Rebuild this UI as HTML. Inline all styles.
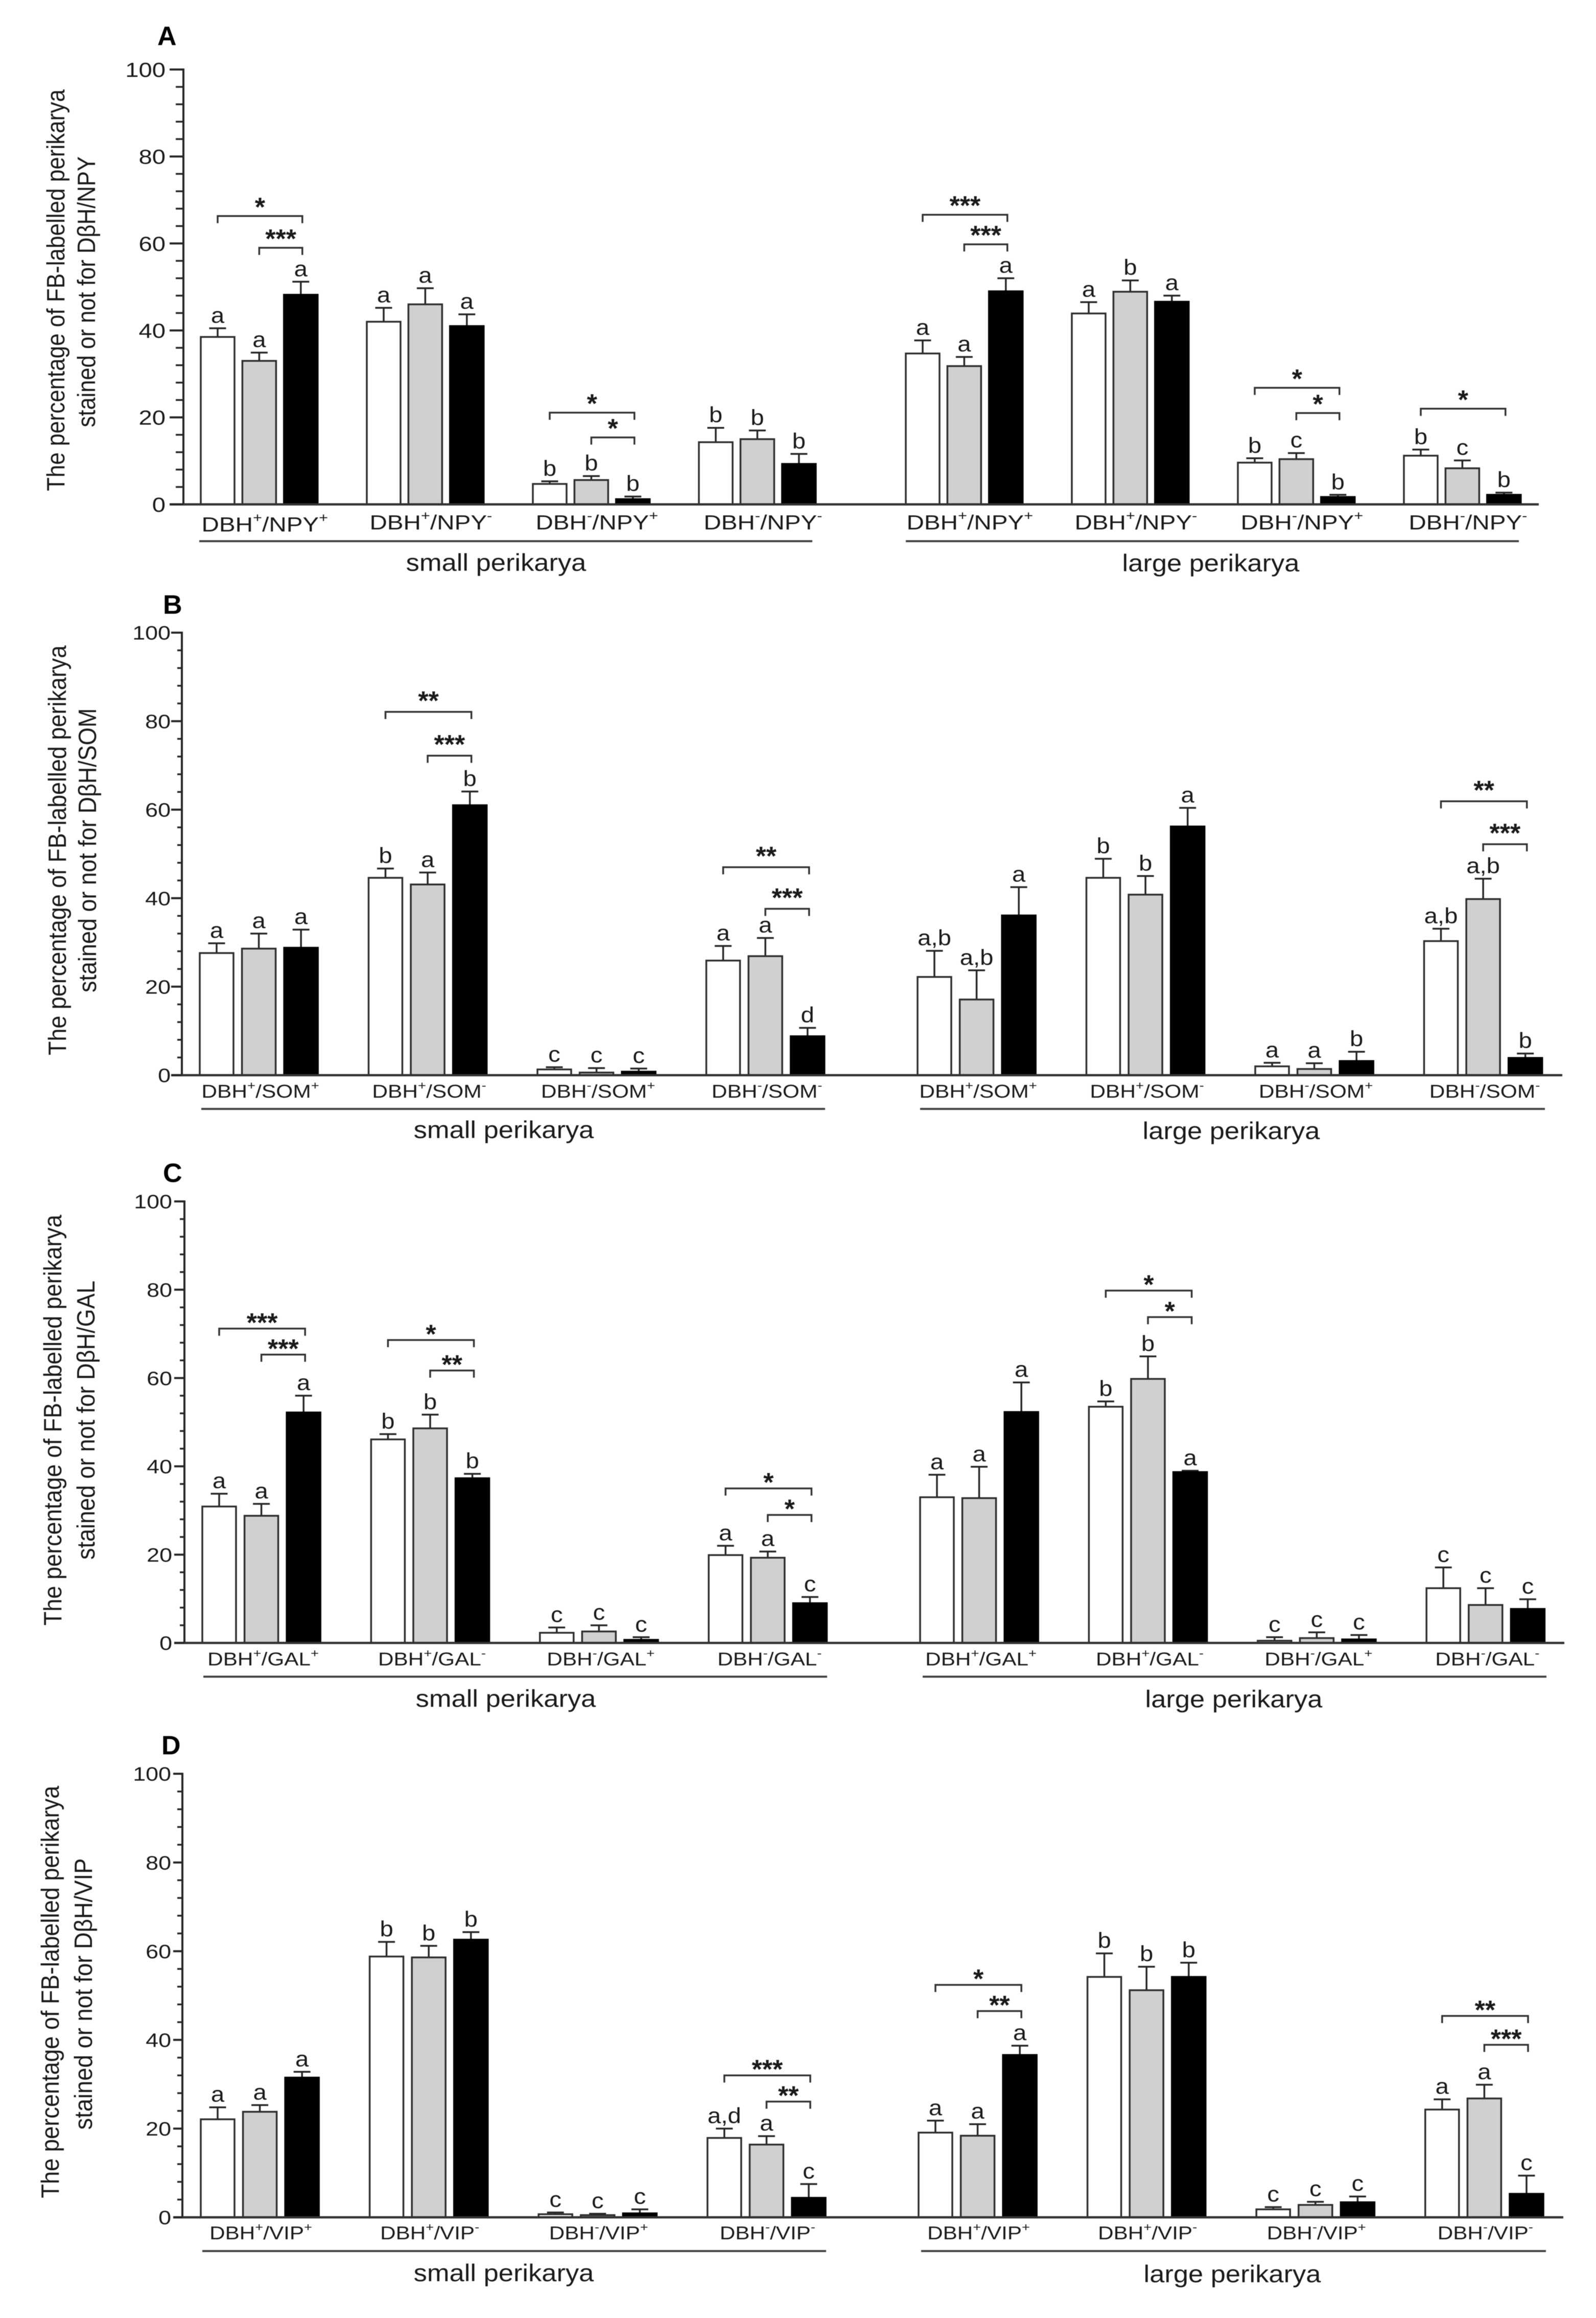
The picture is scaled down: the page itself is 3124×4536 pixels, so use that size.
<!DOCTYPE html>
<html lang="en">
<head>
<meta charset="utf-8">
<title>FB-labelled perikarya bar charts</title>
<style>
html,body{margin:0;padding:0;background:#fff;}
#figure{display:block;width:3124px;height:4536px;background:#fff;font-family:"Liberation Sans",Arial,sans-serif;fill:#1a1a1a;filter:blur(0.6px);}
</style>
</head>
<body>
<svg id="figure" xmlns="http://www.w3.org/2000/svg" width="3124" height="4536" viewBox="0 0 3124 4536"></svg>
<script>
// ---------- shared tick labels and category signs ----------
const majorTicks = [0, 20, 40, 60, 80, 100];
const minorTicks = [4, 8, 12, 16, 24, 28, 32, 36, 44, 48, 52, 56, 64, 68, 72, 76, 84, 88, 92, 96];
const categorySigns = [['+', '+'], ['+', '-'], ['-', '+'], ['-', '-']];
const seriesFills = ['#ffffff', '#d0d0d0', '#000000'];

// ---------- panel A ----------
const aMeans = [[38.5, 33, 48.2], [42, 46, 41], [4.7, 5.6, 1.2], [14.3, 15, 9.3], [34.7, 31.8, 49], [43.9, 48.9, 46.6], [9.6, 10.4, 1.7], [11.2, 8.3, 2.2]];
const aErrorTops = [[40.5, 34.9, 51.2], [45.2, 49.7, 43.7], [5.3, 6.5, 1.8], [17.6, 17, 11.6], [37.7, 33.9, 52], [46.5, 51.5, 48], [10.6, 11.8, 2.2], [12.6, 10.1, 2.7]];
const aLetters = [['a', 'a', 'a'], ['a', 'a', 'a'], ['b', 'b', 'b'], ['b', 'b', 'b'], ['a', 'a', 'a'], ['a', 'b', 'a'], ['b', 'c', 'b'], ['b', 'c', 'b']];
const aBrackets = [[0, 0, 2, 66.3, '*'], [0, 1, 2, 59, '***'], [2, 0, 2, 21.1, '*'], [2, 1, 2, 15.4, '*'], [4, 0, 2, 66.6, '***'], [4, 1, 2, 59.8, '***'], [6, 0, 2, 26.8, '*'], [6, 1, 2, 21, '*'], [7, 0, 2, 22, '*']];

// ---------- panel B ----------
const bMeans = [[27.6, 28.6, 28.8], [44.6, 43.1, 61], [1.3, 0.6, 0.8], [25.9, 26.9, 8.8], [22.2, 17.1, 36.1], [44.6, 40.8, 56.2], [2, 1.4, 3.2], [30.3, 39.8, 3.9]];
const bErrorTops = [[29.8, 32, 32.9], [46.7, 45.8, 64.1], [1.8, 1.6, 1.5], [29.2, 31, 10.7], [28.1, 23.7, 42.5], [48.9, 45, 60.4], [2.8, 2.7, 5.3], [33.1, 44.4, 4.9]];
const bLetters = [['a', 'a', 'a'], ['b', 'a', 'b'], ['c', 'c', 'c'], ['a', 'a', 'd'], ['a,b', 'a,b', 'a'], ['b', 'b', 'a'], ['a', 'a', 'b'], ['a,b', 'a,b', 'b']];
const bBrackets = [[1, 0, 2, 82.1, '**'], [1, 1, 2, 72.2, '***'], [3, 0, 2, 47, '**'], [3, 1, 2, 37.6, '***'], [7, 0, 2, 61.9, '**'], [7, 1, 2, 52.2, '***']];

// ---------- panel C ----------
const cMeans = [[30.9, 28.8, 52.2], [46.1, 48.6, 37.3], [2.3, 2.6, 0.7], [19.9, 19.3, 9], [33, 32.8, 52.3], [53.5, 59.8, 38.7], [0.5, 1.1, 0.8], [12.4, 8.6, 7.7]];
const cErrorTops = [[33.8, 31.5, 56], [47.3, 51.7, 38.3], [3.5, 4, 1.3], [22, 20.7, 10.4], [38.1, 39.9, 59], [54.7, 64.9, 39], [1.3, 2.4, 1.8], [17.1, 12.4, 9.9]];
const cLetters = [['a', 'a', 'a'], ['b', 'b', 'b'], ['c', 'c', 'c'], ['a', 'a', 'c'], ['a', 'a', 'a'], ['b', 'b', 'a'], ['c', 'c', 'c'], ['c', 'c', 'c']];
const cBrackets = [[0, 0, 2, 71.2, '***'], [0, 1, 2, 65.3, '***'], [1, 0, 2, 68.6, '*'], [1, 1, 2, 61.7, '**'], [3, 0, 2, 35, '*'], [3, 1, 2, 29, '*'], [5, 0, 2, 79.8, '*'], [5, 1, 2, 73.8, '*']];

// ---------- panel D ----------
const dMeans = [[22.1, 23.8, 31.5], [58.8, 58.6, 62.6], [0.7, 0.5, 0.9], [17.9, 16.4, 4.4], [19.1, 18.4, 36.6], [54.2, 51.2, 54.2], [1.8, 2.8, 3.4], [24.3, 26.8, 5.3]];
const dErrorTops = [[24.8, 25.3, 32.8], [62.1, 61.2, 64.3], [1.1, 0.8, 1.8], [20, 18.3, 7.5], [21.8, 21, 38.7], [59.5, 56.5, 57.4], [2.3, 3.5, 4.7], [26.6, 29.9, 9.4]];
const dLetters = [['a', 'a', 'a'], ['b', 'b', 'b'], ['c', 'c', 'c'], ['a,d', 'a', 'c'], ['a', 'a', 'a'], ['b', 'b', 'b'], ['c', 'c', 'c'], ['a', 'a', 'c']];
const dBrackets = [[3, 0, 2, 32, '***'], [3, 1, 2, 26.1, '**'], [4, 0, 2, 52.4, '*'], [4, 1, 2, 46.5, '**'], [7, 0, 2, 45.4, '**'], [7, 1, 2, 38.9, '***']];

// ---------- layout (chart frame, not data) ----------
const panels = [
  { id: 'a', letter: 'A', marker: 'NPY', means: aMeans, tops: aErrorTops, letters: aLetters, brackets: aBrackets,
    letterX: 308, letterY: 88, axisX: 359, y100: 136, y0: 987, tickLeft: 332, minorLeft: 344, tickRight: 324, tickFont: 40,
    leftX: 393, rightX: 1773, groupStep: 325, barStep: 81.4, xEnd: 3012, starDy: -6,
    labelDx: 11, labelY: 1036, firstLabelDy: 4, labelFont: 40, labelStretch: 1.19, underY: 1059, underL: [390, 1590], underR: [1773, 2973],
    smallX: 971, smallY: 1117, largeX: 2370, largeY: 1118,
    t1x: 126, t1y: 568, t1len: 786, t2x: 186, t2y: 571, t2len: 530 },
  { id: 'b', letter: 'B', marker: 'SOM', means: bMeans, tops: bErrorTops, letters: bLetters, brackets: bBrackets,
    letterX: 319, letterY: 1201, axisX: 356, y100: 1238, y0: 2104, tickLeft: 335, minorLeft: 347, tickRight: 334, tickFont: 38,
    leftX: 391, rightX: 1796, groupStep: 330.5, barStep: 82.6, xEnd: 3058, starDy: -10,
    labelDx: 3, labelY: 2148, firstLabelDy: 0, labelFont: 36, labelStretch: 1.18, underY: 2170, underL: [394, 1615], underR: [1801, 3024],
    smallX: 986, smallY: 2227, largeX: 2410, largeY: 2229,
    t1x: 129, t1y: 1664, t1len: 802, t2x: 188, t2y: 1664, t2len: 556 },
  { id: 'c', letter: 'C', marker: 'GAL', means: cMeans, tops: cErrorTops, letters: cLetters, brackets: cBrackets,
    letterX: 319, letterY: 2313, axisX: 361, y100: 2351, y0: 3215, tickLeft: 341, minorLeft: 352, tickRight: 337, tickFont: 38,
    leftX: 396, rightX: 1801, groupStep: 330.4, barStep: 82.6, xEnd: 3062, starDy: 0,
    labelDx: 3.5, labelY: 3259, firstLabelDy: 0, labelFont: 36, labelStretch: 1.176, underY: 3281, underL: [398, 1619], underR: [1806, 3027],
    smallX: 990, smallY: 3340, largeX: 2415, largeY: 3341,
    t1x: 120, t1y: 2779, t1len: 804, t2x: 185, t2y: 2779, t2len: 546 },
  { id: 'd', letter: 'D', marker: 'VIP', means: dMeans, tops: dErrorTops, letters: dLetters, brackets: dBrackets,
    letterX: 316, letterY: 3433, axisX: 357, y100: 3471, y0: 4339, tickLeft: 339, minorLeft: 347, tickRight: 335, tickFont: 38,
    leftX: 393, rightX: 1798, groupStep: 330.6, barStep: 82.6, xEnd: 3060, starDy: 0,
    labelDx: 2, labelY: 4382, firstLabelDy: 0, labelFont: 36, labelStretch: 1.173, underY: 4405, underL: [396, 1617], underR: [1803, 3026],
    smallX: 986, smallY: 4464, largeX: 2412, largeY: 4466,
    t1x: 115, t1y: 3898, t1len: 807, t2x: 180, t2y: 3902, t2len: 531 }
];

const BAR_W = 66, CAP_W = 33, INK = '#262626', TICK_STRETCH = 1.18, GROUP_STRETCH = 1.116;
const SVGNS = 'http://www.w3.org/2000/svg';
const root = document.getElementById('figure');

function yScale(p, v) { return p.y0 - v * (p.y0 - p.y100) / 100; }
function barLeft(p, g, b) { return (g < 4 ? p.leftX : p.rightX) + (g % 4) * p.groupStep + b * p.barStep; }
function barCenter(p, g, b) { return barLeft(p, g, b) + BAR_W / 2; }

function make(parent, tag, attrs, text) {
  const el = document.createElementNS(SVGNS, tag);
  for (const k in attrs) el.setAttribute(k, attrs[k]);
  if (text !== undefined) el.textContent = text;
  parent.appendChild(el);
  return el;
}
function stretched(x, y, s) { return 'translate(' + x + ',' + y + ') scale(' + s + ',1)'; }

function drawAxis(p, g) {
  let el = make(g, 'line', { x1: p.axisX, x2: p.axisX, y1: yScale(p, 100) - 2, y2: yScale(p, 0), stroke: INK, 'stroke-width': 4 });
  
  
  el = make(g, 'line', { x1: p.tickLeft, x2: p.xEnd, y1: yScale(p, 0), y2: yScale(p, 0), stroke: '#333', 'stroke-width': 4.5 });
  
  
  minorTicks.forEach(function (v) {
    const t = make(g, 'line', { x1: p.minorLeft, x2: p.axisX, y1: yScale(p, v), y2: yScale(p, v), stroke: INK, 'stroke-width': 3.5 });
    
    
  });
  majorTicks.forEach(function (v) {
    const t = make(g, 'line', { x1: p.tickLeft, x2: p.axisX, y1: yScale(p, v), y2: yScale(p, v), stroke: INK, 'stroke-width': 4 });
    
    
    const lbl = make(g, 'text', { transform: stretched(p.tickRight, yScale(p, v) + p.tickFont * 0.36, TICK_STRETCH), 'text-anchor': 'end', 'font-size': p.tickFont }, String(v));
    
    
  });
}

function drawTitle(p, g) {
  const l1 = make(g, 'text', { transform: 'translate(' + p.t1x + ',' + p.t1y + ') rotate(-90)', 'text-anchor': 'middle', 'font-size': 49, textLength: p.t1len, lengthAdjust: 'spacingAndGlyphs' }, 'The percentage of FB-labelled perikarya');
  
  
  const l2 = make(g, 'text', { transform: 'translate(' + p.t2x + ',' + p.t2y + ') rotate(-90)', 'text-anchor': 'middle', 'font-size': 49, textLength: p.t2len, lengthAdjust: 'spacingAndGlyphs' }, 'stained or not for D\u03B2H/' + p.marker);
  
  
  const pl = make(g, 'text', { x: p.letterX, y: p.letterY, 'font-size': 52, 'font-weight': 'bold', fill: '#000' }, p.letter);
  
  
}

function drawBars(p, g) {
  p.means.forEach(function (vals, gi) {
    vals.forEach(function (v, b) {
      const x = barLeft(p, gi, b), cx = barCenter(p, gi, b);
      const topY = yScale(p, p.tops[gi][b]), barY = yScale(p, v);
      const stem = make(g, 'line', { x1: cx, x2: cx, y1: barY, y2: topY, stroke: INK, 'stroke-width': 3.5 });
      
      
      const cap = make(g, 'line', { x1: cx - CAP_W / 2, x2: cx + CAP_W / 2, y1: topY, y2: topY, stroke: INK, 'stroke-width': 3.5 });
      
      
      const rect = make(g, 'rect', { x: x, y: barY, width: BAR_W, height: Math.max(0, yScale(p, 0) - barY), fill: seriesFills[b], stroke: b === 2 ? '#000' : '#2e2e2e', 'stroke-width': 3.5 });
      
      
      const letter = make(g, 'text', { transform: stretched(cx, topY - 11, 1.1), 'text-anchor': 'middle', 'font-size': 43 }, p.letters[gi][b]);
      
      
    });
  });
}

function drawBrackets(p, g) {
  p.brackets.forEach(function (br) {
    const x1 = barCenter(p, br[0], br[1]), x2 = barCenter(p, br[0], br[2]) + 3, y = yScale(p, br[3]);
    const path = make(g, 'path', { d: 'M' + x1 + ' ' + (y + 14) + 'V' + y + 'H' + x2 + 'V' + (y + 14), fill: 'none', stroke: '#333', 'stroke-width': 3.5 });
    
    
    const star = make(g, 'text', { x: (x1 + x2) / 2, y: y + 6 + p.starDy, 'text-anchor': 'middle', 'font-size': 52, 'font-weight': 'bold' }, br[4]);
    
    
  });
}

function drawCategoryLabels(p, g) {
  for (let gi = 0; gi < 8; gi++) {
    const cx = (barLeft(p, gi, 0) + barLeft(p, gi, 2) + BAR_W) / 2 + p.labelDx;
    const ly = p.labelY + (gi === 0 ? p.firstLabelDy : 0);
    const signs = categorySigns[gi % 4];
    const t = make(g, 'text', { transform: stretched(cx, ly, p.labelStretch), 'text-anchor': 'middle', 'font-size': p.labelFont });
    
    
    const up = p.labelFont * 0.45, sup = p.labelFont * 0.65;
    make(t, 'tspan', {}, 'DBH');
    make(t, 'tspan', { dy: -up, 'font-size': sup }, signs[0]);
    make(t, 'tspan', { dy: up }, '/' + p.marker);
    make(t, 'tspan', { dy: -up, 'font-size': sup }, signs[1]);
  }
}

function drawGroupLabels(p, g) {
  const u1 = make(g, 'line', { x1: p.underL[0], x2: p.underL[1], y1: p.underY, y2: p.underY, stroke: '#444', 'stroke-width': 4 });
  
  
  const u2 = make(g, 'line', { x1: p.underR[0], x2: p.underR[1], y1: p.underY, y2: p.underY, stroke: '#444', 'stroke-width': 4 });
  
  
  const s = make(g, 'text', { transform: stretched(p.smallX, p.smallY, GROUP_STRETCH), 'text-anchor': 'middle', 'font-size': 47 }, 'small perikarya');
  
  
  const l = make(g, 'text', { transform: stretched(p.largeX, p.largeY, GROUP_STRETCH), 'text-anchor': 'middle', 'font-size': 47 }, 'large perikarya');
  
  
}

panels.forEach(function (p) {
  const g = make(root, 'g', {});
  
  
  drawTitle(p, g);
  drawBars(p, g);
  drawAxis(p, g);
  drawBrackets(p, g);
  drawCategoryLabels(p, g);
  drawGroupLabels(p, g);
});
</script>
</body>
</html>
